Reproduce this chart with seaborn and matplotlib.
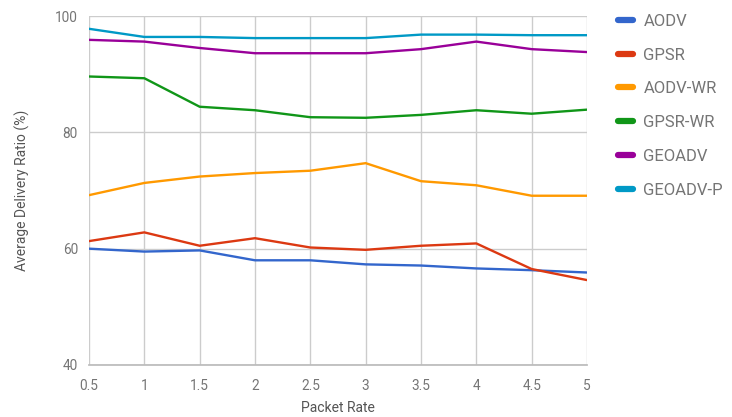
import matplotlib
matplotlib.use("Agg")
import matplotlib.pyplot as plt
from matplotlib.lines import Line2D
import seaborn as sns
import pandas as pd

packet_rate = [0.5, 1, 1.5, 2, 2.5, 3, 3.5, 4, 4.5, 5]
aodv = [60.0, 59.5, 59.7, 58.0, 58.0, 57.3, 57.1, 56.6, 56.3, 55.9]
gpsr = [61.3, 62.8, 60.5, 61.8, 60.2, 59.8, 60.5, 60.9, 56.5, 54.6]
aodv_wr = [69.2, 71.3, 72.4, 73.0, 73.4, 74.7, 71.6, 70.9, 69.1, 69.1]
gpsr_wr = [89.6, 89.3, 84.4, 83.8, 82.6, 82.5, 83.0, 83.8, 83.2, 83.9]
geoadv = [95.9, 95.6, 94.5, 93.6, 93.6, 93.6, 94.3, 95.6, 94.3, 93.8]
geoadv_p = [97.8, 96.4, 96.4, 96.2, 96.2, 96.2, 96.8, 96.8, 96.7, 96.7]

protocols = ["AODV", "GPSR", "AODV-WR", "GPSR-WR", "GEOADV", "GEOADV-P"]
series = [aodv, gpsr, aodv_wr, gpsr_wr, geoadv, geoadv_p]
colors = ["#3366cc", "#dc3912", "#ff9900", "#109618", "#990099", "#0099c6"]
y_ticks = [40, 60, 80, 100]

df = pd.DataFrame(
    [(x, p, v) for p, vals in zip(protocols, series) for x, v in zip(packet_rate, vals)],
    columns=["Packet Rate", "Protocol", "Ratio"],
)

sns.set_theme(style="white")
plt.rcParams["font.family"] = ["Roboto", "DejaVu Sans"]

fig = plt.figure(figsize=(7.32, 4.17), dpi=100)
ax = fig.add_axes([89 / 732, 1 - 365 / 417, (587 - 89) / 732, (365 - 16) / 417])

sns.lineplot(data=df, x="Packet Rate", y="Ratio", hue="Protocol",
             hue_order=protocols, palette=colors, linewidth=1.7,
             legend=False, ax=ax)

ax.set_xlim(0.5, 5)
ax.set_ylim(40, 100)
ax.set_xticks(packet_rate)
ax.set_xticklabels([f"{x:g}" for x in packet_rate])
ax.set_yticks(y_ticks)
ax.grid(True, color="#cccccc", linewidth=1)
ax.set_axisbelow(True)
for side in ["top", "right", "left"]:
    ax.spines[side].set_visible(False)
ax.spines["bottom"].set_color("#bbbbbb")
ax.tick_params(axis="both", length=0, labelsize=9.8, colors="#757575")
ax.tick_params(axis="x", pad=10)
ax.tick_params(axis="y", pad=8)
ax.set_xlabel("Packet Rate", fontsize=10, color="#555555", labelpad=6)
ax.set_ylabel("Average Delivery Ratio (%)", fontsize=10, color="#555555", labelpad=18)

handles = [Line2D([0], [0], color=c, linewidth=4.5, solid_capstyle="round") for c in colors]
fig.legend(handles, protocols, loc="upper left", bbox_to_anchor=(611 / 732, 1 - 7 / 417),
           frameon=False, fontsize=12, labelcolor="#757575", handlelength=0.9,
           handletextpad=0.65, labelspacing=1.13, borderaxespad=0)

fig.savefig("out.png", dpi=100)
